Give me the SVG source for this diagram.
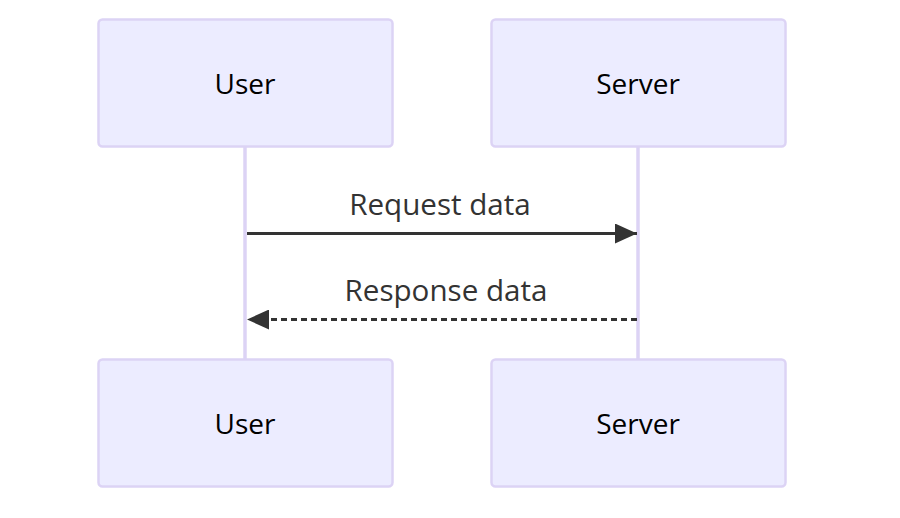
<svg xmlns="http://www.w3.org/2000/svg" width="900" height="518" viewBox="0 0 900 518">
<style>
.actor{fill:#ECECFF;stroke:#DCD3F5;stroke-width:2.5}
.lifeline{stroke:#DCD3F5;stroke-width:3.5}
.atext{font-family:"Open Sans","Noto Sans",sans-serif;font-size:28px;fill:#000;text-anchor:middle}
.mtext{font-family:"Open Sans","Noto Sans",sans-serif;font-size:29.6px;fill:#333;text-anchor:middle}
.msg{stroke:#333;stroke-width:3;fill:none}
</style>
<defs>
<marker id="ah" viewBox="0 0 22 20" refX="22" refY="10" markerWidth="22" markerHeight="20" markerUnits="userSpaceOnUse" orient="auto">
<path d="M0,0 L22,10 L0,20 z" fill="#333"/>
</marker>
</defs>
<g id="lifelines">
<line class="lifeline" x1="245" y1="147" x2="245" y2="359"/>
<line class="lifeline" x1="638" y1="147" x2="638" y2="359"/>
</g>
<g id="user-top"><rect class="actor" x="98.5" y="19.5" width="294" height="127" rx="4"/><text class="atext" x="245" y="94">User</text></g>
<g id="server-top"><rect class="actor" x="491.5" y="19.5" width="294" height="127" rx="4"/><text class="atext" x="638" y="94">Server</text></g>
<g id="user-bottom"><rect class="actor" x="98.5" y="359.5" width="294" height="127" rx="4"/><text class="atext" x="245" y="434">User</text></g>
<g id="server-bottom"><rect class="actor" x="491.5" y="359.5" width="294" height="127" rx="4"/><text class="atext" x="638" y="434">Server</text></g>
<g id="connectors">
<line class="msg" x1="247" y1="233.5" x2="637" y2="233.5" marker-end="url(#ah)"/>
<text class="mtext" x="440" y="215">Request data</text>
<line class="msg" x1="637" y1="319.5" x2="247" y2="319.5" stroke-dasharray="6,4" marker-end="url(#ah)"/>
<text class="mtext" x="446" y="301">Response data</text>
</g>
</svg>
